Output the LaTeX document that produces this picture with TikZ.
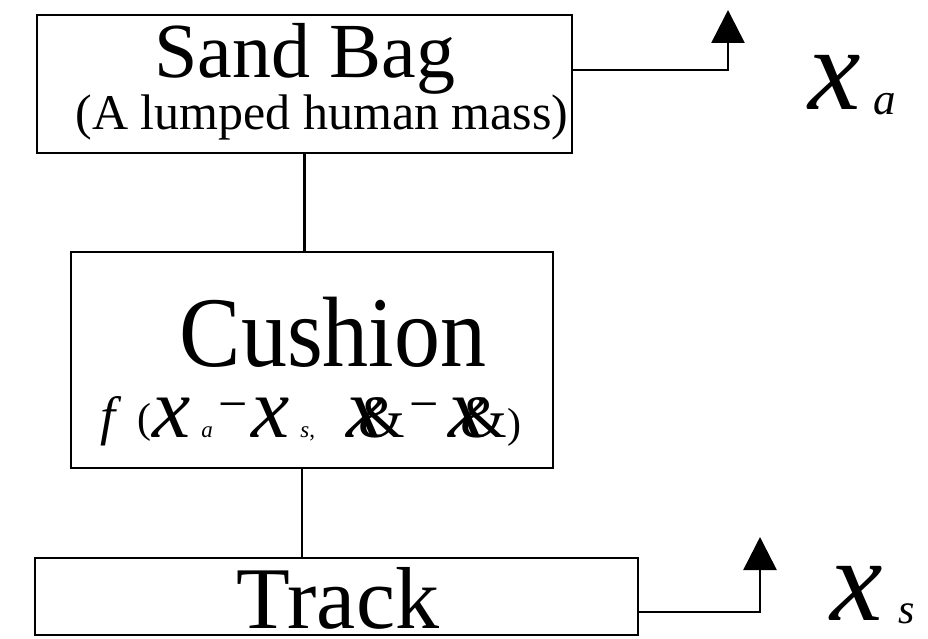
\documentclass[tikz,border=0pt]{standalone}
\usepackage{graphicx}
\usepackage{fontspec}
\setmainfont{Liberation Serif}
\usetikzlibrary{arrows.meta}
\newcommand{\rsX}{{\fontsize{86}{86}\selectfont\itshape x}}
\newcommand{\rsSub}[1]{{\fontsize{23}{23}\selectfont\itshape #1}}
\newcommand{\rsMinus}{\raisebox{16pt}{\fontsize{52}{52}\selectfont −}}
\newcommand{\rsAmp}{{\fontsize{60}{60}\selectfont \&}}
\newcommand{\rsPar}[1]{{\fontsize{42}{42}\selectfont #1}}
\newcommand{\rsNoDepth}[1]{\raisebox{0pt}[\height][0pt]{#1}}
\begin{document}
\begin{tikzpicture}[x=1pt,y=-1pt,
  blk/.style={draw, line width=2.6pt, rectangle, inner sep=0pt},
  wire/.style={line width=2.6pt},
  outarrow/.style={line width=2.6pt, -{Triangle[width=33pt,length=33pt]}},
  txt/.style={inner sep=0pt, anchor=base}]
\useasboundingbox (0,0) rectangle (928,639);
% boxes
\node[blk, minimum width=535pt, minimum height=138pt] (sand) at (304.5,84) {};
\node[blk, minimum width=482pt, minimum height=216pt] (cushion) at (312,360) {};
\node[blk, minimum width=603pt, minimum height=77pt] (track) at (336.5,596.5) {};
% texts
\node[txt] (sandtitle) at (305,78) {\fontsize{78}{78}\selectfont Sand Bag};
\node[txt] (sandsub) at (322,130) {\fontsize{50}{50}\selectfont (A lumped human mass)};
\node[txt] (cushtitle) at (333,366) {\scalebox{0.92}[1]{\fontsize{100}{100}\selectfont Cushion}};
\node[txt, anchor=base west] (cushfun) at (100,437) {\raisebox{3pt}{\fontsize{54}{54}\selectfont\itshape f}\hspace{22pt}\raisebox{5pt}{\rsPar{(}}\hspace{1pt}\rsX\hspace{11pt}\rsSub{a}\hspace{6pt}\rsMinus\hspace{3pt}\rsX\hspace{11pt}\rsSub{s}{\fontsize{23}{23}\selectfont ,}\hspace{31pt}\rsX\hspace{-26pt}\rsAmp\hspace{5pt}\rsMinus\hspace{9pt}\rsX\hspace{-26pt}\rsAmp\rsPar{)}};
\node[txt] (tracktitle) at (338,628) {\rsNoDepth{\fontsize{88}{88}\selectfont Track}};
\node[txt, anchor=base west] (xa) at (808,110) {{\fontsize{118}{118}\selectfont\itshape x}\hspace{13pt}\raisebox{-5pt}{\fontsize{45}{45}\selectfont\itshape a}};
\node[txt, anchor=base west] (xs) at (830,620) {\rsNoDepth{{\fontsize{118}{118}\selectfont\itshape x}\hspace{16pt}\raisebox{-3pt}{\fontsize{42}{42}\selectfont\itshape s}}};
% connectors
\coordinate (xatip) at (728,10);
\coordinate (xstip) at (760,537);
\draw[wire] (sand.south) -- (sand.south |- cushion.north);
\draw[wire] ([xshift=-10pt]cushion.south) -- ([xshift=-10pt]cushion.south |- track.north);
\draw[outarrow] ([yshift=14pt]sand.east) -| (xatip);
\draw[outarrow] ([yshift=-15.5pt]track.east) -| (xstip);
\end{tikzpicture}
\end{document}
